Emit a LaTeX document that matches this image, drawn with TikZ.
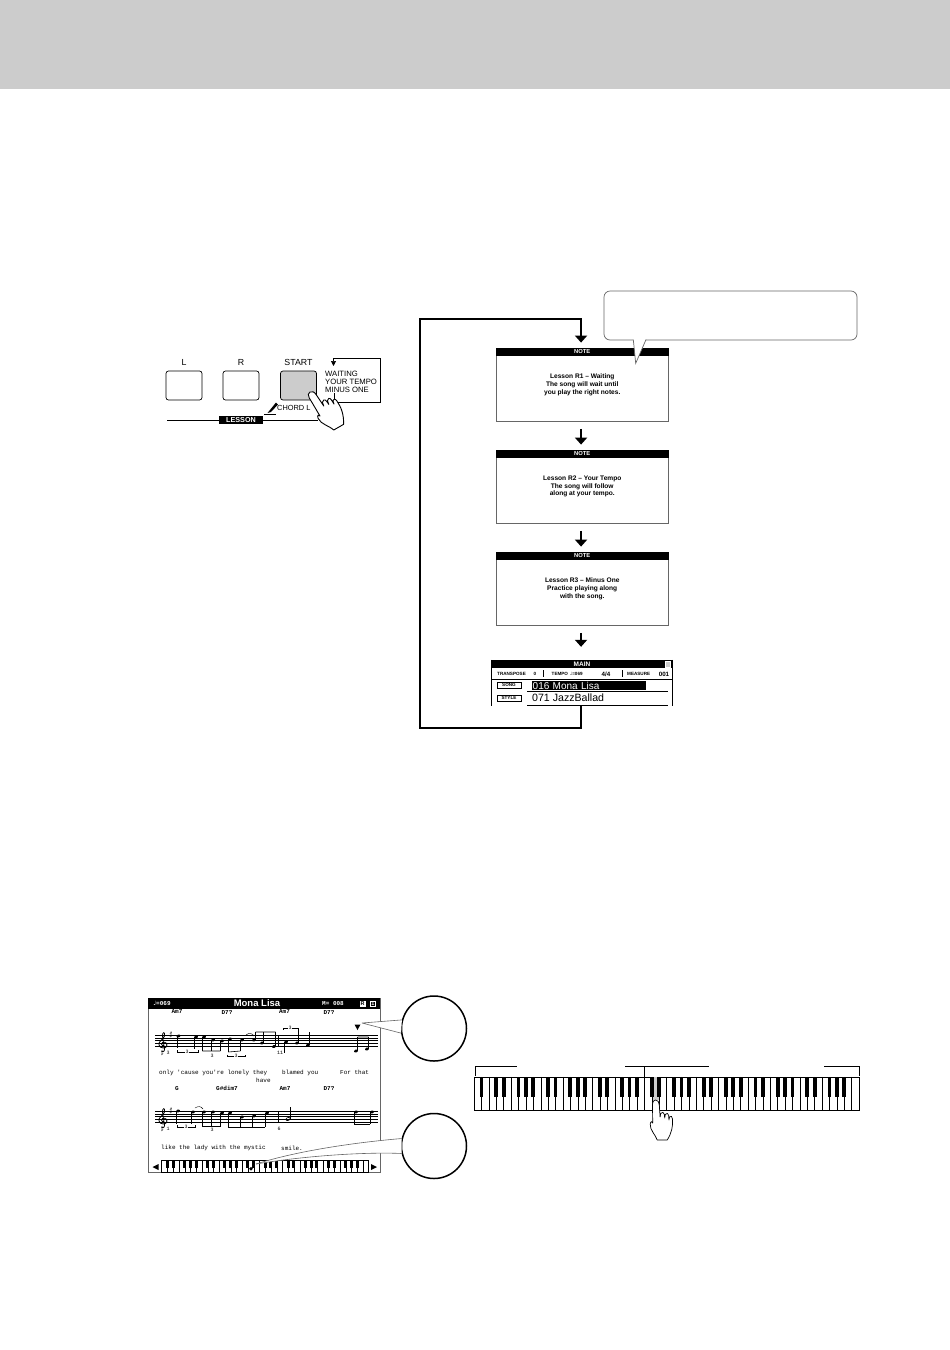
\documentclass[tikz,border=0pt]{standalone}
\usepackage{fontspec}
\setmainfont{Liberation Sans}
\newfontfamily\pixelfont{Liberation Mono}
\newfontfamily\symfont{DejaVu Sans}
\usetikzlibrary{positioning,arrows.meta,calc}
\definecolor{bandgray}{HTML}{CCCCCC}
\definecolor{edgegray}{HTML}{666666}
\tikzset{
  panelbtn/.style={draw,rounded corners=2.5pt,line width=.7pt,minimum width=36pt,minimum height=29pt,inner sep=0pt},
  btnlabel/.style={font=\fontsize{8.8}{9}\selectfont,inner sep=0pt},
  noteframe/.style={draw=edgegray,fill=white,line width=.8pt,minimum width=172.5pt,minimum height=73.5pt,inner sep=0pt,align=center,font=\fontsize{6.6}{7.6}\selectfont\bfseries},
  notehead/.style={fill=black,text=white,minimum width=172.5pt,minimum height=8pt,inner sep=0pt,font=\fontsize{5.8}{6}\selectfont\bfseries},
  flowline/.style={line width=2pt,shorten >=5pt},
  flowarrow/.style={flowline,shorten <=7pt,-{Triangle[width=12pt,length=7pt]}},
  tinylabel/.style={font=\fontsize{4.6}{5}\selectfont\bfseries,inner sep=0pt},
  scoretext/.style={font=\pixelfont\fontsize{6}{6}\selectfont,inner sep=0pt},
  chordtext/.style={font=\pixelfont\fontsize{6}{6}\selectfont\bfseries,inner sep=0pt},
  zoomcircle/.style={draw,circle,line width=1.5pt,fill=white,minimum size=65pt,inner sep=0pt},
  leader/.style={draw=edgegray,line width=.6pt}
}
\begin{document}
\begin{tikzpicture}[x=1pt,y=-1pt]
  \useasboundingbox (0,0) rectangle (950,1350);
  \fill[bandgray] (0,0) rectangle (950,89);

  \def\handpath{(0,0) .. controls (2,0) and (3.6,2) .. (3.6,5) -- (4.4,17)
    -- (5,13.5) .. controls (6,11.5) and (8.5,12) .. (8.7,14.5) -- (9,18)
    -- (9.6,14.5) .. controls (10.5,12.5) and (13,13) .. (13,15.5) -- (13.2,20)
    -- (13.8,17) .. controls (15,15) and (16.8,16.5) .. (16.8,19)
    .. controls (17.4,26) and (16,33) .. (11.5,40) -- (1.5,40)
    .. controls (0,35) and (-6,30) .. (-5.5,24) .. controls (-5,21) and (-3.5,21) .. (-3,23)
    -- (-3.2,4) .. controls (-3.2,1.5) and (-2,0) .. (0,0) -- cycle}

  % panel
  \node[panelbtn] (btnL) at (184,385.5) {};
  \node[panelbtn] (btnR) at (241,385.5) {};
  \node[panelbtn,fill=bandgray] (btnStart) at (298.5,385.5) {};
  \node[btnlabel,above=5pt of btnL] (labL) {L};
  \node[btnlabel,above=5pt of btnR] (labR) {R};
  \node[btnlabel,above=5pt of btnStart] (labStart) {START};
  \node[font=\fontsize{7.7}{8}\selectfont,align=left,inner sep=0pt,anchor=west] (labModes) at (325,381.5) {WAITING\\YOUR TEMPO\\MINUS ONE};
  \node[fill=black,text=white,font=\fontsize{7.2}{7}\selectfont\bfseries,inner sep=0pt,minimum width=44pt,minimum height=8pt] (labLesson) at (241,420) {LESSON};
  \node[font=\fontsize{7.4}{8}\selectfont,inner sep=0pt,anchor=west] (labChord) at (277,408) {CHORD L};
  \coordinate (lineL) at (167,420);
  \coordinate (lineR) at (318,420);
  \coordinate (modeA) at (333.5,366);
  \coordinate (modeB) at (333.5,358);
  \coordinate (modeC) at (380,358);
  \coordinate (modeD) at (380,402);
  \coordinate (modeE) at (334,402);
  \coordinate (modeF) at (334,393);
  \draw[line width=.7pt] (lineL) -- (labLesson) -- (lineR);
  \draw[line width=.7pt,{Triangle[width=5pt,length=5pt]}-] (modeA) -- (modeB) -- (modeC) -- (modeD) -- (modeE) -- (modeF);
  \fill (276,402.5) -- (278,404.5) -- (271,412) -- (267.5,413) -- cycle;
  \draw[line width=.5pt] (264,414.5) -- (276,414.5);
  \begin{scope}[shift={(310,392)},rotate=30,scale=1.12]
    \draw[fill=white,line width=.9pt,line join=round] \handpath;
  \end{scope}

  % lesson steps
  \node[noteframe] (noteA) at (582.25,384.75) {Lesson R1 -- Waiting\\The song will wait until\\you play the right notes.};
  \node[notehead,below=0pt of noteA.north] (headA) {NOTE};
  \node[noteframe] (noteB) at (582.25,486.75) {Lesson R2 -- Your Tempo\\The song will follow\\along at your tempo.};
  \node[notehead,below=0pt of noteB.north] (headB) {NOTE};
  \node[noteframe] (noteC) at (582.25,588.75) {Lesson R3 -- Minus One\\Practice playing along\\with the song.};
  \node[notehead,below=0pt of noteC.north] (headC) {NOTE};
  \node[minimum width=181pt,minimum height=46pt,inner sep=0pt] (mainDisp) at (581.75,683) {};
  \coordinate (loopA) at (420,727.5);
  \coordinate (loopB) at (420,318.5);
  \draw[flowarrow] ([xshift=-1.2pt]noteA.south) -- ([xshift=-1.2pt]noteB.north);
  \draw[flowarrow] ([xshift=-1.2pt]noteB.south) -- ([xshift=-1.2pt]noteC.north);
  \draw[flowarrow] ([xshift=-1.2pt]noteC.south) -- ([xshift=-.7pt,yshift=8pt]mainDisp.north);
  \draw[flowline,-{Triangle[width=12pt,length=7pt]}] ([xshift=-.7pt]mainDisp.south) |- (loopA) -- (loopB) -| ([xshift=-1.2pt]noteA.north);

  % callout
  \draw[draw=edgegray,fill=white,line width=.7pt,rounded corners=6pt]
    (633.3,340) -- (604,340) -- (604,291) -- (857,291) -- (857,340) -- (646,340);
  \draw[draw=edgegray,fill=white,line width=.7pt] (633.3,339.6) -- (635.7,363.3) -- (646,339.6);

  % main display
  \fill (mainDisp.north west) rectangle ([yshift=-8pt]mainDisp.north east);
  \draw[line width=.5pt] (mainDisp.north west) -- (mainDisp.south west) (mainDisp.north east) -- (mainDisp.south east);
  \draw[line width=.6pt] (491.25,679) -- (672.25,679);
  \node[text=white,font=\fontsize{6.5}{7}\selectfont\bfseries,inner sep=0pt] (dispMain) at (582,664) {MAIN};
  \node[fill=bandgray,draw=white,line width=.4pt,minimum size=5.5pt,inner sep=0pt] (dispIcon) at (667.5,664) {};
  \node[tinylabel,anchor=west] (dispTrans) at (497,674) {TRANSPOSE};
  \node[tinylabel] (dispZero) at (535,674) {0};
  \node[tinylabel,anchor=west] (dispTempo) at (551.5,674) {TEMPO \,{\symfont ♩}=069};
  \node[font=\fontsize{6.2}{7}\selectfont\bfseries,inner sep=0pt] (dispBeat) at (606,674) {4/4};
  \node[tinylabel,anchor=west] (dispMeas) at (627,674) {MEASURE};
  \node[font=\fontsize{6.2}{7}\selectfont\bfseries,inner sep=0pt] (dispNum) at (664,674) {001};
  \draw[line width=.4pt] (543,670) -- (543,677) (622,670) -- (622,677);
  \node[draw,tinylabel,minimum width=24pt,minimum height=6.5pt] (dispSong) at (509,685) {SONG};
  \node[draw,tinylabel,minimum width=24pt,minimum height=6.5pt] (dispStyle) at (509,698) {STYLE};
  \node[fill=black,text=white,font=\fontsize{10}{10}\selectfont,inner sep=0pt,anchor=west,minimum width=114pt,minimum height=9.5pt,text width=112pt] (dispTitle) at (531.5,685.5) {016 Mona Lisa};
  \node[font=\fontsize{10.6}{11}\selectfont,inner sep=0pt,anchor=west] (dispJazz) at (532,698) {071 JazzBallad};
  \draw[line width=.7pt] (527,691) -- (668,691) (527,705) -- (668,705);

  % score screen
  \node[draw=edgegray,line width=.7pt,minimum width=232pt,minimum height=174pt,inner sep=0pt] (scoreBox) at (264,1085) {};
  \fill (scoreBox.north west) rectangle ([yshift=-11pt]scoreBox.north east);
  \node[text=white,font=\pixelfont\fontsize{6}{6}\selectfont\bfseries,inner sep=0pt] (scoreTempo) at (162,1003.5) {{\symfont ♩}=069};
  \node[text=white,font=\fontsize{9.5}{10}\selectfont\bfseries,inner sep=0pt] (scoreTitle) at (257,1003.5) {Mona Lisa};
  \node[text=white,font=\pixelfont\fontsize{6}{6}\selectfont\bfseries,inner sep=0pt] (scoreBar) at (333,1003.5) {M= 008};
  \node[fill=white,draw=white,font=\fontsize{5.5}{6}\selectfont\bfseries,inner sep=.6pt] (scoreR) at (362.5,1003.5) {R};
  \node[draw=white,text=white,font=\fontsize{5.5}{6}\selectfont\bfseries,inner sep=.8pt] (scoreOne) at (373,1003.5) {1};
  \foreach \cname/\cx/\cy/\ctext in {a/177/1012/Am7,b/227/1012/D7?,c/284.5/1012/Am7,d/329/1012/D7?,e/177/1088.5/G,f/227/1088.5/G\#dim7,g/285/1088.5/Am7,h/329/1088.5/D7?}
    \node[chordtext] (chord\cname) at (\cx,\cy) {\ctext};
  \foreach \lname/\lx/\ly/\ltext in {a/159/1072.7/only 'cause you're lonely they,b/282/1072.7/blamed you,c/340/1072.7/For that,d/256/1080.7/have,e/161/1148/like the lady with the mystic,f/281/1148/smile.}
    \node[scoretext,anchor=west] (lyric\lname) at (\lx,\ly) {\ltext};

  % staves
  \def\clefpath{(-1.5,9) .. controls (1,11) and (2.5,8) .. (1,4) -- (-.5,-6) .. controls (-1,-10) and (2.5,-11) .. (1.5,-6)
    .. controls (1,-3) and (-5,-1) .. (-4,3) .. controls (-3,7) and (4,7) .. (4,3) .. controls (4,0) and (-1,-1) .. (-1.5,2)
    .. controls (-1.5,3.5) and (0,4) .. (1,3.5)}
  \foreach \sy in {1035,1111} {
    \foreach \k in {0,...,4}
      \draw[line width=.45pt] (155,\sy+\k*2.75) -- (378,\sy+\k*2.75);
    \draw[line width=.6pt] (278,\sy) -- (278,\sy+11);
    \begin{scope}[shift={(163,\sy+7)}]
      \draw[line width=.8pt] \clefpath;
    \end{scope}
    \node[inner sep=0pt,font=\fontsize{7}{7}\selectfont] at (171,\sy) {$\sharp$};
    \node[inner sep=0pt,font=\fontsize{6}{6}\selectfont] at (162.5,\sy+18) {$\sharp$};
  }
  % x / y / stem end / stem side
  \foreach \nx/\ny/\ne/\sd in {178.5/1036/1048/-1.6,196/1037/1049/-1.6,204/1037/1051/-1.6,213/1040/1051/-1.6,222/1041/1051/-1.6,230/1039/1052/-1.6,242/1040/1051/-1.6,254/1040/1032/1.6,262/1043/1032/1.6,274/1046.5/1032/1.6,286/1042/1053/-1.6,297/1043/1030/1.6,308/1045/1032/1.6,356/1051/1037/1.6,367/1049/1037/1.6,
      178/1111/1124/-1.6,193/1112/1124/-1.6,204/1112/1126.5/-1.6,213/1112/1126.5/-1.6,222/1113/1126.5/-1.6,230/1113/1127/-1.6,242/1117/1127/-1.6,254/1116/1127/-1.6,267/1113/1127/-1.6,356/1112/1124/-1.6,372/1112/1124/-1.6} {
    \fill[rotate around={20:(\nx,\ny)}] (\nx,\ny) ellipse (2 and 1.4);
    \draw[line width=.5pt] (\nx+\sd,\ny) -- (\nx+\sd,\ne);
  }
  \draw[line width=.6pt,rotate around={20:(288,1119)}] (288,1119) ellipse (2.2 and 1.5);
  \draw[line width=.5pt] (290,1119) -- (290,1107);
  % beams and tuplets
  \draw[line width=.6pt] (202.4,1051) -- (220.4,1051) (228.4,1052) -- (240.4,1051) (255.6,1032) -- (275.6,1032) (357.6,1037) -- (368.6,1037);
  \draw[line width=1.1pt] (202.4,1126.5) -- (220.4,1126.5);
  \draw[line width=.6pt] (228.4,1127) -- (265.4,1127) (354.4,1124) -- (370.4,1124);
  \draw[line width=.4pt] (177,1050) -- (177,1052) -- (198,1052) -- (198,1050) (227,1054.5) -- (227,1056) -- (245,1056) -- (245,1054.5) (283,1029.5) -- (283,1028) -- (298,1028) -- (298,1029.5) (177,1125) -- (177,1127) -- (195,1127) -- (195,1125);
  \draw[line width=.4pt] (246,1035) .. controls (249,1032.5) and (252,1033) .. (254,1036) (195,1108) .. controls (198,1106) and (201,1106) .. (203,1109);
  \foreach \tname/\tx/\ty/\ttext in {a/187/1052/3,b/212/1056/3,c/236/1056/3,d/290/1028/3,e/168/1053/3,f/280/1053/11,g/186/1127/3,h/212/1130/3,i/168/1129/1,j/279/1129/6}
    \node[fill=white,inner sep=.3pt,font=\pixelfont\fontsize{5}{5}\selectfont] (tuplet\tname) at (\tx,\ty) {\ttext};
  \fill (354.5,1024.5) -- (360.5,1024.5) -- (357.5,1030) -- cycle;

  % small keyboard
  \begin{scope}[shift={(161.7,1160)}]
    \def\kw{5.75}
    \draw[line width=.5pt] (0,0) rectangle (36*\kw,12);
    \foreach \k in {1,...,35} \draw[line width=.3pt] (\k*\kw,0) -- (\k*\kw,12);
    \foreach \o in {0,...,4} \foreach \k in {1,2,4,5,6}
      \fill (\o*7*\kw+\k*\kw-1.5,0) rectangle (\o*7*\kw+\k*\kw+1.5,7.5);
    \fill (89.3,8.7) circle (1.8);
  \end{scope}
  \fill (152.5,1167) -- (158.5,1164) -- (158.5,1170) -- cycle;
  \fill (377,1167) -- (371,1164) -- (371,1170) -- cycle;

  % zoom circles
  \node[zoomcircle] (circA) at (434,1028.5) {};
  \node[zoomcircle] (circB) at (434,1146) {};
  \coordinate (leadA) at (362,1023);
  \coordinate (leadB) at (256,1164);
  \fill[white] (leadA) -- (circA.165) -- (circA.188) -- cycle;
  \draw[leader] (leadA) -- (circA.165) (leadA) -- (circA.188);
  \fill[white] (leadB) .. controls (300,1150) and (360,1142) .. (circB.167) -- (circB.193) .. controls (370,1152) and (310,1155) .. (leadB);
  \draw[leader] (leadB) .. controls (300,1150) and (360,1142) .. (circB.167);
  \draw[leader] (leadB) .. controls (310,1155) and (370,1152) .. (circB.193);

  % full keyboard
  \node[draw,line width=.8pt,minimum width=385pt,minimum height=33pt,inner sep=0pt] (bigKeys) at (667,1093.8) {};
  \begin{scope}[shift={(bigKeys.north west)}]
    \def\kw{7.404}
    \fill[bandgray] (24*\kw,0) rectangle (25*\kw,23);
    \foreach \k in {1,...,51} \draw[line width=.45pt] (\k*\kw,0) -- (\k*\kw,33);
    \fill (\kw-1.9,0) rectangle (\kw+1.9,20.5);
    \foreach \o in {0,...,6} \foreach \k in {3,4,6,7,8}
      \fill (\o*7*\kw+\k*\kw-1.9,0) rectangle (\o*7*\kw+\k*\kw+1.9,20.5);
  \end{scope}
  \coordinate (rangeA) at (475.3,1076);
  \coordinate (rangeB) at (517,1066);
  \coordinate (rangeC) at (625,1066);
  \coordinate (rangeD) at (709,1066);
  \coordinate (rangeE) at (644.7,1066);
  \coordinate (rangeF) at (824,1066);
  \coordinate (rangeG) at (859.3,1076);
  \draw[line width=.7pt] (rangeA) |- (rangeB) (rangeC) -- (rangeD) (rangeF) -| (rangeG);
  \draw[line width=1.2pt] (rangeE) -- (rangeE |- bigKeys.north);
  \begin{scope}[shift={(655.7,1100)}]
    \draw[fill=white,line width=.7pt,line join=round] \handpath;
  \end{scope}
\end{tikzpicture}
\end{document}
